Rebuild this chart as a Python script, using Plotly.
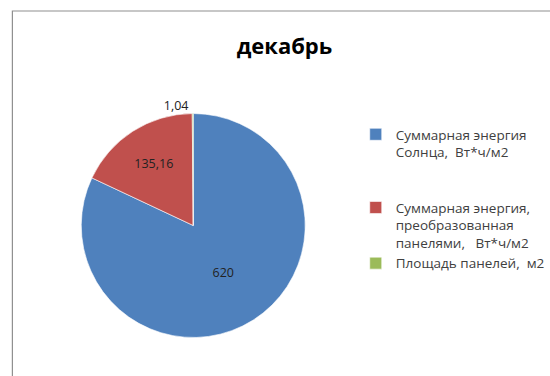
import plotly.graph_objects as go

labels = [
    "Суммарная энергия<br>Солнца,  Вт*ч/м2<br> <br> ",
    "Суммарная энергия,<br>преобразованная<br>панелями,   Вт*ч/м2",
    "Площадь панелей,  м2",
]
values = [620, 135.16, 1.04]
value_text = ["620", "135,16", "1,04"]
colors = ["#4F81BD", "#C0504D", "#9BBB59"]

W, H = 550, 376
cx, cy, r = 195, 225.5, 113

FONT = "Open Sans, Lato, sans-serif"

fig = go.Figure(go.Pie(
    labels=labels,
    values=values,
    text=value_text,
    textinfo="text",
    textposition=["inside", "inside", "outside"],
    insidetextorientation="horizontal",
    textfont=dict(family=FONT, size=12.5, color="#222222"),
    marker=dict(colors=colors, line=dict(color="#ffffff", width=0.6)),
    sort=False,
    direction="clockwise",
    rotation=0,
    hoverinfo="label+value",
    domain=dict(x=[(cx - r) / W, (cx + r) / W], y=[(H - cy - r) / H, (H - cy + r) / H]),
    showlegend=True,
))

fig.update_layout(
    width=W, height=H,
    margin=dict(l=0, r=0, t=0, b=0),
    paper_bgcolor="white",
    plot_bgcolor="white",
    title=dict(text="<b>декабрь</b>", x=284.5 / W, xanchor="center", y=1 - 46 / H, yanchor="middle",
               font=dict(family=FONT, size=22, color="#000000")),
    legend=dict(x=359 / W, y=1 - 119 / H, xanchor="left", yanchor="top",
                valign="top", itemwidth=30,
                font=dict(family=FONT, size=13.5, color="#404040"),
                bgcolor="rgba(0,0,0,0)"),
    shapes=[dict(type="rect", xref="paper", yref="paper",
                 x0=12.5 / W, x1=1.02, y0=-0.02, y1=1 - 11 / H,
                 line=dict(color="#8f8f8f", width=1.2))],
)

fig.write_html("out.html", config={"displayModeBar": False},
               post_script="document.body.style.margin='0px';")
